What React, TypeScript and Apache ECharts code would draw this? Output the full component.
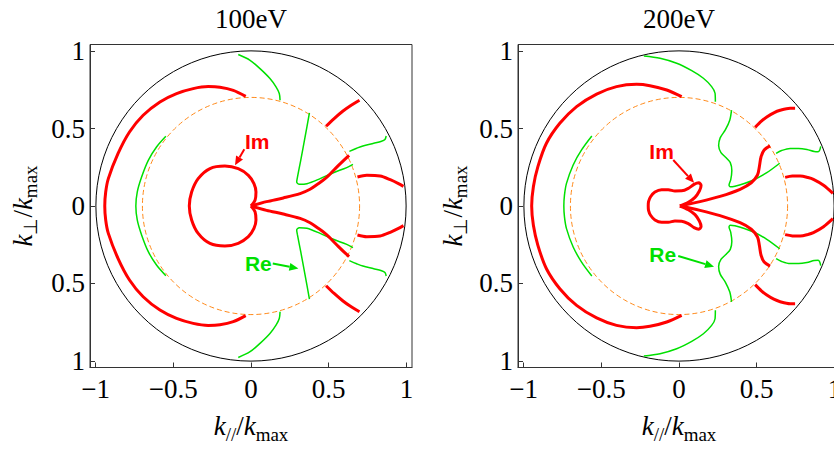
import React, { useEffect, useRef } from "react";
import * as echarts from "echarts";

type Pt = [number, number];

const panelTitles = ["100eV", "200eV"];
const tickValues = [-1, -0.5, 0, 0.5, 1];
const circleRadii = [1, 0.7];

// ---------------- 100 eV : Im (red) ----------------
const im100OuterArc: Pt[] = [
  [-0.034, 0.708], [-0.114, 0.747], [-0.2, 0.767], [-0.275, 0.771], [-0.372, 0.758], [-0.479, 0.726],
  [-0.586, 0.672], [-0.694, 0.586], [-0.782, 0.478], [-0.856, 0.338], [-0.918, 0.177], [-0.935, 0.09], [-0.941, 0],
  [-0.935, -0.09], [-0.918, -0.177], [-0.856, -0.338], [-0.782, -0.478], [-0.694, -0.586], [-0.586, -0.672], [-0.479, -0.726],
  [-0.372, -0.758], [-0.275, -0.771], [-0.2, -0.767], [-0.114, -0.747], [-0.034, -0.708],
];
const im100Loop: Pt[] = [
  [0, 0], [0.026, 0.037], [0.032, 0.09], [0.019, 0.145], [-0.017, 0.198], [-0.082, 0.241], [-0.168, 0.258],
  [-0.264, 0.242], [-0.34, 0.177], [-0.382, 0.09], [-0.397, 0], [-0.382, -0.09], [-0.34, -0.177],
  [-0.264, -0.242], [-0.168, -0.258], [-0.082, -0.241], [-0.017, -0.198], [0.019, -0.145], [0.032, -0.09],
  [0.026, -0.037], [0, 0],
];
const im100ForkUpper: Pt[] = [
  [0, 0], [0.1, 0.028], [0.208, 0.052], [0.316, 0.08], [0.38, 0.108], [0.43, 0.142], [0.475, 0.175],
  [0.509, 0.207], [0.563, 0.262], [0.631, 0.327],
];
const im100ForkLower: Pt[] = [
  [0, 0], [0.1, -0.028], [0.208, -0.052], [0.316, -0.08], [0.38, -0.108], [0.43, -0.142], [0.475, -0.175],
  [0.509, -0.207], [0.563, -0.262], [0.631, -0.327],
];
const im100SegUpper: Pt[] = [[0.483, 0.515], [0.535, 0.565], [0.59, 0.612], [0.64, 0.648], [0.698, 0.683]];
const im100SegLower: Pt[] = [[0.483, -0.515], [0.535, -0.565], [0.59, -0.612], [0.64, -0.648], [0.698, -0.683]];
const im100RimUpper: Pt[] = [[0.685, 0.187], [0.745, 0.198], [0.831, 0.194], [0.896, 0.17], [0.949, 0.145], [0.981, 0.127]];
const im100RimLower: Pt[] = [[0.685, -0.187], [0.745, -0.198], [0.831, -0.194], [0.896, -0.17], [0.949, -0.145], [0.981, -0.127]];

// ---------------- 100 eV : Re (green) ----------------
const re100InnerArc: Pt[] = [
  [-0.548, 0.45], [-0.608, 0.381], [-0.661, 0.295], [-0.704, 0.187], [-0.732, 0.09], [-0.741, 0],
  [-0.732, -0.09], [-0.704, -0.187], [-0.661, -0.295], [-0.608, -0.381], [-0.548, -0.45],
];
const re100Top: Pt[] = [[-0.082, 0.978], [-0.006, 0.941], [0.058, 0.887], [0.122, 0.823], [0.161, 0.769], [0.182, 0.726], [0.187, 0.683]];
const re100Bottom: Pt[] = [[-0.082, -0.978], [-0.006, -0.941], [0.058, -0.887], [0.122, -0.823], [0.161, -0.769], [0.182, -0.726], [0.187, -0.683]];
const re100VUpper: Pt[] = [
  [0.376, 0.601], [0.348, 0.446], [0.32, 0.295], [0.299, 0.187], [0.294, 0.155], [0.311, 0.14], [0.36, 0.144],
  [0.445, 0.177], [0.53, 0.215], [0.616, 0.248], [0.656, 0.269],
];
const re100VLower: Pt[] = [
  [0.376, -0.601], [0.348, -0.446], [0.32, -0.295], [0.299, -0.187], [0.294, -0.155], [0.311, -0.14], [0.36, -0.144],
  [0.445, -0.177], [0.53, -0.215], [0.616, -0.248], [0.656, -0.269],
];
const re100RimUpper: Pt[] = [[0.633, 0.353], [0.68, 0.373], [0.72, 0.388], [0.79, 0.405], [0.84, 0.418], [0.862, 0.43], [0.87, 0.452]];
const re100RimLower: Pt[] = [[0.633, -0.353], [0.68, -0.373], [0.72, -0.388], [0.79, -0.405], [0.84, -0.418], [0.862, -0.43], [0.87, -0.452]];

// ---------------- 200 eV : Im (red) ----------------
const im200OuterArc: Pt[] = [
  [0.017, 0.706], [-0.079, 0.749], [-0.187, 0.777], [-0.273, 0.786], [-0.402, 0.771], [-0.53, 0.723],
  [-0.659, 0.642], [-0.767, 0.534], [-0.853, 0.405], [-0.908, 0.254], [-0.937, 0.125], [-0.948, 0],
  [-0.937, -0.125], [-0.908, -0.254], [-0.853, -0.405], [-0.767, -0.534], [-0.659, -0.642], [-0.53, -0.723],
  [-0.402, -0.771], [-0.273, -0.786], [-0.187, -0.777], [-0.079, -0.749], [0.017, -0.706],
];
const im200Loop: Pt[] = [
  [0.006, 0], [0.06, 0.024], [0.103, 0.056], [0.131, 0.097], [0.142, 0.133], [0.127, 0.15], [0.097, 0.14],
  [0.06, 0.114], [0.017, 0.098], [-0.026, 0.097], [-0.069, 0.105], [-0.112, 0.105], [-0.155, 0.09],
  [-0.183, 0.06], [-0.196, 0.028], [-0.198, 0], [-0.196, -0.028], [-0.183, -0.06], [-0.155, -0.09],
  [-0.112, -0.105], [-0.069, -0.105], [-0.026, -0.097], [0.017, -0.098], [0.06, -0.114], [0.097, -0.14],
  [0.127, -0.15], [0.142, -0.133], [0.131, -0.097], [0.103, -0.056], [0.06, -0.024], [0.006, 0],
];
const im200ForkUpper: Pt[] = [
  [0.006, 0], [0.135, 0.028], [0.264, 0.062], [0.393, 0.108], [0.465, 0.15], [0.505, 0.2], [0.517, 0.254],
  [0.528, 0.318], [0.548, 0.362], [0.586, 0.388],
];
const im200ForkLower: Pt[] = [
  [0.006, 0], [0.135, -0.028], [0.264, -0.062], [0.393, -0.108], [0.465, -0.15], [0.505, -0.2], [0.517, -0.254],
  [0.528, -0.318], [0.548, -0.362], [0.586, -0.388],
];
const im200SegUpper: Pt[] = [[0.49, 0.508], [0.53, 0.548], [0.565, 0.575], [0.61, 0.602], [0.651, 0.618], [0.715, 0.631], [0.747, 0.631]];
const im200SegLower: Pt[] = [[0.49, -0.508], [0.53, -0.548], [0.565, -0.575], [0.61, -0.602], [0.651, -0.618], [0.715, -0.631], [0.747, -0.631]];
const im200RimUpper: Pt[] = [[0.683, 0.185], [0.73, 0.193], [0.78, 0.194], [0.83, 0.184], [0.865, 0.172], [0.93, 0.134], [0.99, 0.082]];
const im200RimLower: Pt[] = [[0.683, -0.185], [0.73, -0.193], [0.78, -0.194], [0.83, -0.184], [0.865, -0.172], [0.93, -0.134], [0.99, -0.082]];

// ---------------- 200 eV : Re (green) ----------------
const re200InnerArc: Pt[] = [
  [-0.561, 0.452], [-0.627, 0.362], [-0.681, 0.265], [-0.724, 0.146], [-0.737, 0.07], [-0.741, 0],
  [-0.737, -0.07], [-0.724, -0.146], [-0.681, -0.265], [-0.627, -0.362], [-0.561, -0.452],
];
const re200Top: Pt[] = [[-0.226, 0.969], [-0.122, 0.954], [-0.015, 0.922], [0.082, 0.874], [0.157, 0.825], [0.21, 0.771], [0.232, 0.728], [0.234, 0.674]];
const re200Bottom: Pt[] = [[-0.226, -0.969], [-0.122, -0.954], [-0.015, -0.922], [0.082, -0.874], [0.157, -0.825], [0.21, -0.771], [0.232, -0.728], [0.234, -0.674]];
const re200WaveUpper: Pt[] = [
  [0.338, 0.619], [0.327, 0.556], [0.298, 0.491], [0.265, 0.44], [0.255, 0.39], [0.27, 0.345], [0.305, 0.31],
  [0.33, 0.28], [0.34, 0.23], [0.333, 0.17], [0.322, 0.135], [0.33, 0.124], [0.36, 0.128], [0.42, 0.145],
  [0.48, 0.168], [0.565, 0.215], [0.648, 0.276],
];
const re200WaveLower: Pt[] = [
  [0.338, -0.619], [0.327, -0.556], [0.298, -0.491], [0.265, -0.44], [0.255, -0.39], [0.27, -0.345], [0.305, -0.31],
  [0.33, -0.28], [0.34, -0.23], [0.333, -0.17], [0.322, -0.135], [0.33, -0.124], [0.36, -0.128], [0.42, -0.145],
  [0.48, -0.168], [0.565, -0.215], [0.648, -0.276],
];
const re200RimUpper: Pt[] = [[0.625, 0.34], [0.66, 0.358], [0.715, 0.372], [0.77, 0.372], [0.823, 0.365], [0.87, 0.352], [0.895, 0.35], [0.905, 0.36], [0.912, 0.385]];
const re200RimLower: Pt[] = [[0.625, -0.34], [0.66, -0.358], [0.715, -0.372], [0.77, -0.372], [0.823, -0.365], [0.87, -0.352], [0.895, -0.35], [0.905, -0.36], [0.912, -0.385]];

// annotations: label anchor (left/middle), arrow start, arrow tip — in data units
type Note = { text: string; at: Pt; from: Pt; to: Pt };
const notes100: Note[] = [
  { text: "Im", at: [-0.039, 0.418], from: [-0.043, 0.366], to: [-0.103, 0.263] },
  { text: "Re", at: [-0.039, -0.37], from: [0.14, -0.372], to: [0.305, -0.404] },
];
const notes200: Note[] = [
  { text: "Im", at: [-0.191, 0.353], from: [-0.037, 0.297], to: [0.097, 0.15] },
  { text: "Re", at: [-0.191, -0.31], from: [-0.005, -0.323], to: [0.2255, -0.392] },
];

const panels = [
  {
    title: panelTitles[0],
    im: [im100OuterArc, im100Loop, im100ForkUpper, im100ForkLower, im100SegUpper, im100SegLower, im100RimUpper, im100RimLower],
    re: [re100InnerArc, re100Top, re100Bottom, re100VUpper, re100VLower, re100RimUpper, re100RimLower],
    notes: notes100,
  },
  {
    title: panelTitles[1],
    im: [im200OuterArc, im200Loop, im200ForkUpper, im200ForkLower, im200SegUpper, im200SegLower, im200RimUpper, im200RimLower],
    re: [re200InnerArc, re200Top, re200Bottom, re200WaveUpper, re200WaveLower, re200RimUpper, re200RimLower],
    notes: notes200,
  },
];

const RED = "#ff0000";
const GREEN = "#00e000";
const ORANGE = "#ff8a1a";
const FRAME = "#333333";
const SERIF = '"Liberation Serif", "Times New Roman", serif';
const SANS = '"Liberation Sans", Arial, sans-serif';

const GRID_LEFT = 90;
const PANEL_SHIFT = 428;
const GRID_TOP = 44.5;
const GRID_W = 322;
const GRID_H = 323;
const X_EXT = 1.036;
const Y_EXT = 1.043;

const nameRich = {
  k: { fontFamily: SERIF, fontStyle: "italic", fontSize: 27, fill: "#000" },
  n: { fontFamily: SERIF, fontSize: 27, fill: "#000" },
  s: { fontFamily: SERIF, fontSize: 19, fill: "#000", padding: [16, 0, 0, 0] },
};

function buildOption() {
  const grid: any[] = [];
  const xAxis: any[] = [];
  const yAxis: any[] = [];
  const series: any[] = [];
  const elements: any[] = [];

  panels.forEach((p, i) => {
    const left = GRID_LEFT + i * PANEL_SHIFT;
    const cx = left + GRID_W / 2;
    grid.push({
      left, top: GRID_TOP, width: GRID_W, height: GRID_H,
      show: true, borderColor: FRAME, borderWidth: 1, backgroundColor: "transparent",
      containLabel: false, outerBoundsMode: "none",
    });
    xAxis.push({
      gridIndex: i, type: "value", min: -X_EXT, max: X_EXT,
      axisLine: { show: true, onZero: false, lineStyle: { color: FRAME, width: 1 } },
      splitLine: { show: false },
      axisTick: { show: true, inside: true, length: 5, customValues: tickValues, lineStyle: { color: FRAME, width: 1 } },
      axisLabel: {
        customValues: tickValues, margin: 8, color: "#000", fontFamily: SERIF, fontSize: 27,
        formatter: (v: number) => (v < 0 ? "\u2212" + String(-v) : String(v)),
      },
    });
    yAxis.push({
      gridIndex: i, type: "value", min: -Y_EXT, max: Y_EXT,
      axisLine: { show: true, onZero: false, lineStyle: { color: FRAME, width: 1 } },
      splitLine: { show: false },
      axisTick: { show: true, inside: true, length: 5, customValues: tickValues, lineStyle: { color: FRAME, width: 1 } },
      axisLabel: {
        customValues: tickValues, margin: 5, color: "#000", fontFamily: SERIF, fontSize: 27,
        formatter: (v: number) => String(Math.abs(v)),
      },
    });

    // reference circles
    series.push({
      type: "custom", xAxisIndex: i, yAxisIndex: i, silent: true, z: 1,
      data: circleRadii.map((r) => [0, 0, r]),
      renderItem: (params: any, api: any) => {
        const c = api.coord([api.value(0), api.value(1)]);
        const s = api.size([api.value(2), api.value(2)]);
        const dashed = params.dataIndex === 1;
        return {
          type: "circle",
          shape: { cx: c[0], cy: c[1], r: (s[0] + s[1]) / 2 },
          style: dashed
            ? { fill: "none", stroke: ORANGE, lineWidth: 1, lineDash: [5, 3] }
            : { fill: "none", stroke: "#000", lineWidth: 1 },
        };
      },
    });

    p.re.forEach((curve) =>
      series.push({
        type: "line", xAxisIndex: i, yAxisIndex: i, data: curve, showSymbol: false, symbol: "none",
        smooth: 0.3, silent: true, z: 3, lineStyle: { color: GREEN, width: 1.5 },
      })
    );
    p.im.forEach((curve) =>
      series.push({
        type: "line", xAxisIndex: i, yAxisIndex: i, data: curve, showSymbol: false, symbol: "none",
        smooth: 0.3, silent: true, z: 4, lineStyle: { color: RED, width: 3 },
      })
    );

    // annotations
    series.push({
      type: "custom", xAxisIndex: i, yAxisIndex: i, silent: true, z: 6,
      data: p.notes.map((n) => [n.at[0], n.at[1], n.from[0], n.from[1], n.to[0], n.to[1]]),
      renderItem: (params: any, api: any) => {
        const note = p.notes[params.dataIndex];
        const color = note.text === "Im" ? RED : GREEN;
        const t = api.coord([api.value(0), api.value(1)]);
        const f = api.coord([api.value(2), api.value(3)]);
        const e = api.coord([api.value(4), api.value(5)]);
        const ang = Math.atan2(e[1] - f[1], e[0] - f[0]);
        const L = 9, W = 4;
        const bx = e[0] - L * Math.cos(ang), by = e[1] - L * Math.sin(ang);
        return {
          type: "group",
          children: [
            { type: "line", shape: { x1: f[0], y1: f[1], x2: bx, y2: by }, style: { stroke: color, lineWidth: 2 } },
            {
              type: "polygon",
              shape: { points: [[e[0], e[1]], [bx + W * Math.sin(ang), by - W * Math.cos(ang)], [bx - W * Math.sin(ang), by + W * Math.cos(ang)]] },
              style: { fill: color },
            },
            {
              type: "text", x: t[0], y: t[1],
              style: {
                text: note.text, fill: color, fontFamily: SANS, fontWeight: "bold", fontSize: 21,
                align: "left", verticalAlign: "middle", textAlign: "left", textVerticalAlign: "middle",
              },
            },
          ],
        };
      },
    });

    elements.push({
      type: "text", x: cx, y: 19,
      style: {
        text: p.title, fill: "#000", fontFamily: SERIF, fontSize: 27,
        align: "center", verticalAlign: "middle", textAlign: "center", textVerticalAlign: "middle",
      },
    });
    elements.push({
      type: "text", x: cx, y: 426,
      style: {
        text: "{k|k}{s|//}{n|/}{k|k}{s|max}", rich: nameRich,
        align: "center", verticalAlign: "middle", textAlign: "center", textVerticalAlign: "middle",
      },
    });
    elements.push({
      type: "text", x: 22.7 + i * (PANEL_SHIFT + 2), y: 206, rotation: Math.PI / 2,
      style: {
        text: "{k|k}{s|\u22A5}{n|/}{k|k}{s|max}", rich: nameRich,
        align: "center", verticalAlign: "middle", textAlign: "center", textVerticalAlign: "middle",
      },
    });
  });

  return {
    animation: false,
    backgroundColor: "#ffffff",
    grid, xAxis, yAxis, series,
    graphic: { elements },
  };
}

export default function App() {
  const ref = useRef<HTMLDivElement>(null);
  useEffect(() => {
    if (!ref.current) return;
    const chart = echarts.init(ref.current, null, { renderer: "svg" });
    chart.setOption(buildOption() as any);
    return () => chart.dispose();
  }, []);
  return (
    <div style={{ position: "fixed", left: 0, top: 0, width: 834, height: 452, overflow: "hidden", background: "#fff" }}>
      <div ref={ref} style={{ width: 845, height: 452 }} />
    </div>
  );
}
